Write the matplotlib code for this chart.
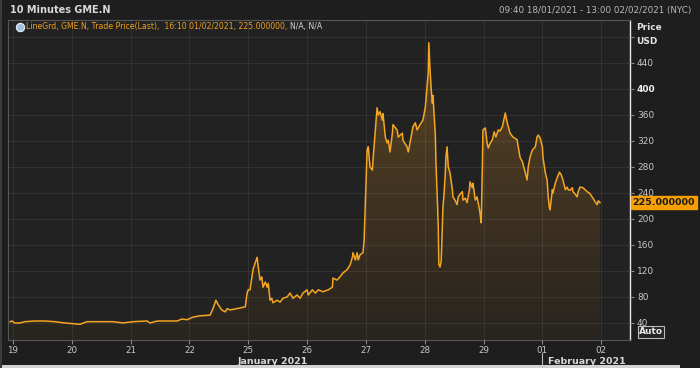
import numpy as np
import matplotlib
matplotlib.use("Agg")
from matplotlib import pyplot as plt
from matplotlib import font_manager
from matplotlib.colors import LinearSegmentedColormap
from matplotlib.lines import Line2D
from matplotlib.patches import Rectangle
from matplotlib.transforms import blended_transform_factory

# trading-day axis: 0 = Tue 19 Jan ... 10 = Tue 02 Feb
day_labels = ["19", "20", "21", "22", "25", "26", "27", "28", "29", "01", "02"]
price_ticks = [40, 80, 120, 160, 200, 240, 280, 320, 360, 400, 440, 480]
last_price = 225.0

# time in trading days since the open of 19 Jan
t = [-0.05, -0.02, 0.03, 0.12, 0.20, 0.37, 0.54, 0.71, 0.88, 1.14, 1.26, 1.48, 1.70, 1.87, 2.04, 2.28, 2.33, 2.45,
     2.62, 2.79, 2.87, 2.96, 3.06, 3.18, 3.35, 3.40, 3.45, 3.49, 3.55, 3.61, 3.64, 3.69, 3.86, 3.95, 3.98,
     4.00, 4.03, 4.08, 4.15, 4.17, 4.20, 4.23, 4.25, 4.29, 4.32, 4.34, 4.37, 4.40, 4.42, 4.49, 4.54, 4.59, 4.66,
     4.71, 4.76, 4.83, 4.88, 4.93,
     5.00, 5.02, 5.09, 5.14, 5.19, 5.27, 5.36, 5.43, 5.44, 5.51, 5.56, 5.61, 5.68, 5.73, 5.77, 5.78, 5.82, 5.85,
     5.87, 5.90, 5.95, 5.97,
     6.02, 6.04, 6.07, 6.11, 6.12, 6.19, 6.21, 6.24, 6.28, 6.29, 6.33, 6.36, 6.38, 6.41, 6.45, 6.46, 6.53, 6.55,
     6.62, 6.63, 6.70, 6.72, 6.75, 6.80, 6.84, 6.87, 6.92, 6.97,
     7.01, 7.06, 7.07, 7.09, 7.11, 7.13, 7.14, 7.16, 7.18, 7.19, 7.21, 7.23, 7.24, 7.26, 7.28, 7.30, 7.31, 7.33,
     7.35, 7.36, 7.38, 7.40, 7.43, 7.47, 7.48, 7.52, 7.55, 7.57, 7.60, 7.64, 7.65, 7.69, 7.72, 7.76, 7.77, 7.81,
     7.82, 7.86, 7.89, 7.93, 7.94, 7.96, 7.98, 7.99,
     8.03, 8.06, 8.08, 8.11, 8.15, 8.18, 8.21, 8.25, 8.28, 8.32, 8.37, 8.40, 8.45, 8.50, 8.57, 8.62, 8.66, 8.71,
     8.74, 8.76, 8.79, 8.83, 8.88, 8.91, 8.93, 8.96,
     9.00, 9.01, 9.05, 9.08, 9.10, 9.12, 9.13, 9.15, 9.17, 9.18, 9.22, 9.25, 9.29, 9.32, 9.35, 9.39, 9.42, 9.44,
     9.47, 9.51, 9.52, 9.56, 9.59, 9.61, 9.64, 9.69, 9.76, 9.81, 9.86, 9.90, 9.93, 9.95, 9.98]

price = [42, 43, 40, 40, 42, 43, 43, 42, 40, 38, 42, 42, 42, 40, 42, 43, 40, 43,
         43, 43, 46, 45, 49, 51, 52, 62, 75, 68, 60, 57, 62, 60, 63, 65, 86,
         91, 91, 122, 141, 126, 106, 111, 95, 103, 95, 101, 75, 78, 71, 75, 72, 78, 80,
         86, 78, 83, 78, 86,
         91, 83, 91, 86, 91, 88, 91, 95, 109, 106, 111, 117, 122, 129, 141, 148, 137, 148,
         137, 145, 148, 168,
         306, 311, 280, 275, 290, 371, 360, 365, 352, 362, 326, 317, 321, 303, 332, 345, 337, 326,
         332, 321, 311, 303, 317, 342, 348, 337, 345, 352,
         372, 425, 471, 430, 400, 378, 390, 360, 330, 290, 240, 190, 130, 126, 135, 194, 218, 240,
         271, 295, 311, 280, 271, 245, 234, 228, 222, 234, 238, 242, 229, 232, 225, 245, 257, 248,
         255, 229, 234, 215, 209, 194, 280, 337,
         340, 317, 309, 316, 322, 334, 326, 337, 335, 342, 363, 349, 332, 326, 322, 295, 288, 271,
         260, 280, 295, 306, 311, 326, 329, 325,
         311, 295, 271, 260, 234, 217, 214, 229, 245, 240, 255, 263, 272, 268, 260, 245, 249, 245,
         244, 248, 242, 238, 234, 242, 249, 248, 242, 239, 232, 226, 222, 228, 225]

names = {f.name for f in font_manager.fontManager.ttflist}
narrow = "Liberation Sans Narrow" if "Liberation Sans Narrow" in names else "DejaVu Sans"
plt.rcParams["font.family"] = ["DejaVu Sans"]

W, H = 700, 368


def fx(px):
    return px / W


def fy(py):
    return 1 - py / H


fig = plt.figure(figsize=(7, 3.68), dpi=100, facecolor="#1e1e1e")
ax = fig.add_axes([fx(8), fy(340), fx(630) - fx(8), fy(20) - fy(340)])
ax.set_facecolor("#222222")

x0, x1, y0, y1 = -0.085, 10.49, 13.8, 506

# gradient fill under the line
poly = ax.fill_between(t, price, 0, color="none", lw=0)
cmap = LinearSegmentedColormap.from_list("fill", ["#26231f", "#5c4423"])
grad = np.linspace(0, 1, 256).reshape(-1, 1)
img = ax.imshow(grad, extent=[x0, x1, 0, 480], origin="lower", cmap=cmap, aspect="auto", zorder=1)
img.set_clip_path(poly.get_paths()[0], transform=ax.transData)

ax.plot(t, price, color="#f5a623", lw=1.1, zorder=3)

ax.set_xlim(x0, x1)
ax.set_ylim(y0, y1)

ax.set_xticks(range(len(day_labels)))
ax.set_xticklabels(day_labels)
ax.set_yticks(price_ticks)
ax.set_yticklabels([str(p) if p < 480 else "" for p in price_ticks])
ax.yaxis.tick_right()
ax.grid(color="#ffffff", alpha=0.07, lw=0.8)
ax.set_axisbelow(False)
ax.tick_params(axis="x", colors="#888888", labelcolor="#c8c8c8", length=3, pad=1.5, labelsize=6.3)
ax.tick_params(axis="y", colors="#888888", labelcolor="#c8c8c8", length=3, pad=2, labelsize=6.5)
for lab in ax.get_yticklabels():
    if lab.get_text() == "400":
        lab.set_fontweight("bold")
        lab.set_color("#f0f0f0")

for s in ["left", "top", "bottom"]:
    ax.spines[s].set_color("#555555")
ax.spines["right"].set_color("#e8e8e8")
ax.spines["right"].set_linewidth(1.0)

# header
fig.text(fx(10), fy(10), "10 Minutes GME.N", fontsize=7, fontweight="bold", color="#d8d8d8", va="center")
fig.text(fx(691), fy(11), "09:40 18/01/2021 - 13:00 02/02/2021 (NYC)", fontsize=6.3, color="#b8b8b8",
         va="center", ha="right")

# legend row
fig.add_artist(Line2D([fx(20)], [fy(27)], marker="o", ms=6, mfc="#9fc3e6", mec="#e8f0f8", mew=0.8,
                      transform=fig.transFigure))
leg = fig.text(fx(26), fy(27), "LineGrd, GME.N, Trade Price(Last),  16:10 01/02/2021, 225.000000, ",
               fontsize=5.6, family=narrow, color="#f0a020", va="center")
fig.canvas.draw()
bb = leg.get_window_extent()
fig.text(bb.x1 / fig.dpi / fig.get_figwidth(), fy(27), "N/A, N/A", fontsize=5.6, family=narrow,
         color="#d8d8d8", va="center")

# right axis header
fig.text(fx(636), fy(27), "Price", fontsize=6.5, fontweight="bold", color="#e0e0e0", va="center")
fig.text(fx(636), fy(41), "USD", fontsize=6.5, fontweight="bold", color="#e0e0e0", va="center")

# last price tag
yblend = blended_transform_factory(ax.transAxes, ax.transData)
ax.text(1.004, last_price, "225.000000", transform=yblend, ha="left", va="center", fontsize=6.8,
        fontweight="bold", color="#1a1a1a", clip_on=False,
        bbox=dict(boxstyle="square,pad=0.18", fc="#f5a000", ec="#f5a000"))

fig.text(fx(639), fy(332), "Auto", fontsize=6.5, fontweight="bold", color="#e8e8e8", va="center",
         bbox=dict(boxstyle="square,pad=0.15", fc="#262626", ec="#bbbbbb", lw=0.8))

# month labels
xblend = blended_transform_factory(ax.transData, fig.transFigure)
fig.text(4.42, fy(362), "January 2021", transform=xblend, fontsize=6.8, fontweight="bold", color="#d6d6d6",
         ha="center", va="center")
fig.text(9.1, fy(362), "February 2021", transform=xblend, fontsize=6.8, fontweight="bold", color="#d6d6d6",
         ha="left", va="center")
fig.add_artist(Line2D([9.0, 9.0], [fy(353), fy(368)], color="#bbbbbb", lw=0.8, transform=xblend))

# window edges
fig.add_artist(Rectangle((0, 0), fx(680), 3 / H, transform=fig.transFigure, color="#d2d2d2", lw=0))
fig.add_artist(Rectangle((0, 0), 2 / W, 1, transform=fig.transFigure, color="#3c3c3c", lw=0))

fig.savefig("out.png", dpi=100, facecolor=fig.get_facecolor())
